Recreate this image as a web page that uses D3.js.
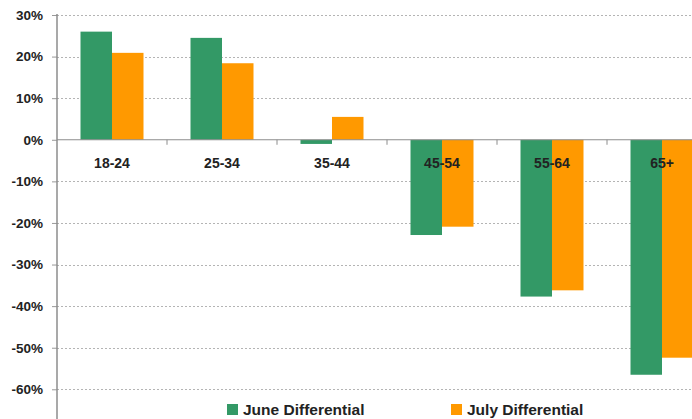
<!DOCTYPE html>
<html><head><meta charset="utf-8">
<script src="https://cdn.jsdelivr.net/npm/d3@7"></script>
<style>html,body{margin:0;padding:0;background:#fff;overflow:hidden}</style>
</head><body>
<svg id="c" width="692" height="419"></svg>
<script>
const categories = ["18-24","25-34","35-44","45-54","55-64","65+"];
const seriesNames = ["June Differential","July Differential"];
const juneValues = [26, 24.5, -1, -22.9, -37.7, -56.5];
const julyValues = [20.9, 18.4, 5.5, -20.9, -36.2, -52.4];
const yTicks = [30,20,10,0,-10,-20,-30,-40,-50,-60];
const colors = ["#339966","#FF9900"];

const svg = d3.select("#c");
const W = 692, H = 419;
const left = 57;
const x0 = d3.scaleBand().domain(categories).range([left, left + 110*6]);
const x1 = d3.scaleBand().domain(seriesNames).range([0, x0.bandwidth()]).paddingOuter(0.746);
const y = d3.scaleLinear().domain([-70, 30]).range([430.9, 15]);
const font = "Liberation Sans, Arial, Helvetica, sans-serif";

// gridlines
svg.append("g").selectAll("line").data(yTicks.filter(d => d !== 0)).join("line")
  .attr("x1", left).attr("x2", W)
  .attr("y1", d => Math.round(y(d)) + 0.5).attr("y2", d => Math.round(y(d)) + 0.5)
  .attr("stroke", "#b4b4b4").attr("stroke-width", 1).attr("stroke-dasharray", "2,2");

// bars
const data = categories.map((c, i) => ({c, vals: [juneValues[i], julyValues[i]]}));
const g = svg.append("g").selectAll("g").data(data).join("g")
  .attr("transform", d => `translate(${x0(d.c)},0)`);
g.selectAll("rect").data(d => d.vals.map((v, j) => ({v, s: seriesNames[j], j}))).join("rect")
  .attr("x", d => x1(d.s)).attr("width", x1.bandwidth())
  .attr("y", d => y(Math.max(0, d.v))).attr("height", d => Math.abs(y(d.v) - y(0)))
  .attr("fill", d => colors[d.j]);

// y axis
const yAxis = d3.axisLeft(y).tickValues(yTicks).tickSize(5).tickPadding(9)
  .tickFormat(d => d + "%");
const ya = svg.append("g").attr("transform", `translate(${left},0)`).call(yAxis);
ya.select(".domain").remove();
ya.selectAll(".tick line").attr("stroke", "#999");
ya.selectAll("text").attr("font-family", font).attr("font-size", 13.5)
  .attr("font-weight", "bold").attr("fill", "#222");
svg.append("line").attr("x1", left).attr("x2", left).attr("y1", 14).attr("y2", H)
  .attr("stroke", "#8c8c8c").attr("stroke-width", 1.5);

// zero line
svg.append("line").attr("x1", left).attr("x2", W).attr("y1", y(0)).attr("y2", y(0))
  .attr("stroke", "#8c8c8c").attr("stroke-width", 1.2);
// category ticks
svg.append("g").selectAll("line").data(categories.slice(1)).join("line")
  .attr("x1", d => x0(d)).attr("x2", d => x0(d))
  .attr("y1", y(0)).attr("y2", y(0) + 5).attr("stroke", "#8c8c8c");

// category labels
svg.append("g").selectAll("text").data(categories).join("text")
  .attr("x", d => x0(d) + x0.bandwidth()/2).attr("y", 168)
  .attr("text-anchor", "middle").attr("font-family", font).attr("font-size", 14)
  .attr("font-weight", "bold").attr("fill", "#222").text(d => d);

// legend
const legX = [227, 451];
const lg = svg.append("g").selectAll("g").data(seriesNames).join("g")
  .attr("transform", (d, i) => `translate(${legX[i]},0)`);
lg.append("rect").attr("x", 0).attr("y", 404).attr("width", 11).attr("height", 11)
  .attr("fill", (d, i) => colors[i]);
lg.append("text").attr("x", 16).attr("y", 415).attr("font-family", font)
  .attr("font-size", 15.5).attr("font-weight", "bold").attr("fill", "#222").text(d => d);
</script>
</body></html>
